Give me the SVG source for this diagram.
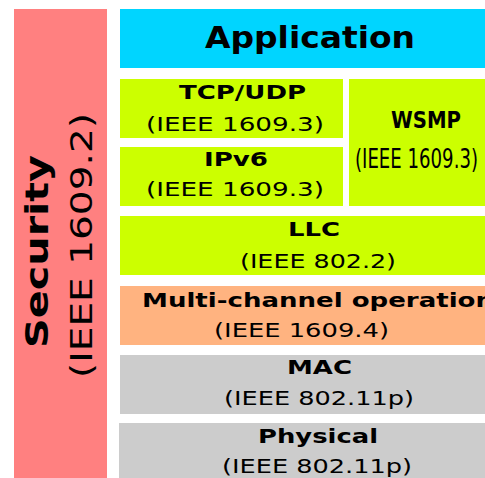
<svg xmlns="http://www.w3.org/2000/svg" width="485" height="478" viewBox="0 0 485 478">
<style>
text{font-family:"DejaVu Sans","Liberation Sans",sans-serif;fill:#000}
.b{font-weight:bold;font-size:19.5px}
.n{font-size:20px}
</style>
<rect width="485" height="478" fill="#fff"/>
<g id="security">
<rect x="14" y="9" width="93" height="469" fill="#ff8080"/>
<text transform="translate(48,348) rotate(-90)" style="font-weight:bold;font-size:32px" textLength="193" lengthAdjust="spacingAndGlyphs">Security</text>
<text transform="translate(92,378) rotate(-90)" style="font-size:30px" textLength="265" lengthAdjust="spacingAndGlyphs">(IEEE 1609.2)</text>
</g>
<g id="application">
<rect x="120" y="9" width="365" height="59" fill="#00d5ff"/>
<text x="205" y="48" style="font-weight:bold;font-size:30px" textLength="210" lengthAdjust="spacingAndGlyphs">Application</text>
</g>
<g id="tcpudp">
<rect x="120" y="79" width="223" height="59" fill="#ccff00"/>
<text class="b" x="179" y="99" textLength="127" lengthAdjust="spacingAndGlyphs">TCP/UDP</text>
<text class="n" x="146" y="131" textLength="178" lengthAdjust="spacingAndGlyphs">(IEEE 1609.3)</text>
</g>
<g id="ipv6">
<rect x="120" y="147" width="223" height="59" fill="#ccff00"/>
<text class="b" x="204" y="166" textLength="64" lengthAdjust="spacingAndGlyphs">IPv6</text>
<text class="n" x="146" y="196" textLength="178" lengthAdjust="spacingAndGlyphs">(IEEE 1609.3)</text>
</g>
<g id="wsmp">
<rect x="349" y="79" width="136" height="127" fill="#ccff00"/>
<text x="391" y="128" style="font-weight:bold;font-size:23px" textLength="70" lengthAdjust="spacingAndGlyphs">WSMP</text>
<text x="355" y="168" style="font-size:26px" textLength="123" lengthAdjust="spacingAndGlyphs">(IEEE 1609.3)</text>
</g>
<g id="llc">
<rect x="120" y="216" width="365" height="59" fill="#ccff00"/>
<text class="b" x="288" y="236" textLength="52" lengthAdjust="spacingAndGlyphs">LLC</text>
<text class="n" x="240" y="268" textLength="156" lengthAdjust="spacingAndGlyphs">(IEEE 802.2)</text>
</g>
<g id="multichannel">
<rect x="120" y="286" width="365" height="59" fill="#ffb380"/>
<text class="b" x="142" y="307" textLength="352" lengthAdjust="spacingAndGlyphs">Multi-channel operation</text>
<text class="n" x="214" y="337" textLength="175" lengthAdjust="spacingAndGlyphs">(IEEE 1609.4)</text>
</g>
<g id="mac">
<rect x="120" y="355" width="365" height="59" fill="#cccccc"/>
<text class="b" x="287" y="374" textLength="65" lengthAdjust="spacingAndGlyphs">MAC</text>
<text class="n" x="224" y="405" textLength="190" lengthAdjust="spacingAndGlyphs">(IEEE 802.11p)</text>
</g>
<g id="physical">
<rect x="119" y="423" width="366" height="55" fill="#cccccc"/>
<text class="b" x="258" y="443" textLength="120" lengthAdjust="spacingAndGlyphs">Physical</text>
<text class="n" x="222" y="473" textLength="190" lengthAdjust="spacingAndGlyphs">(IEEE 802.11p)</text>
</g>
<g id="connectors"/>
</svg>
